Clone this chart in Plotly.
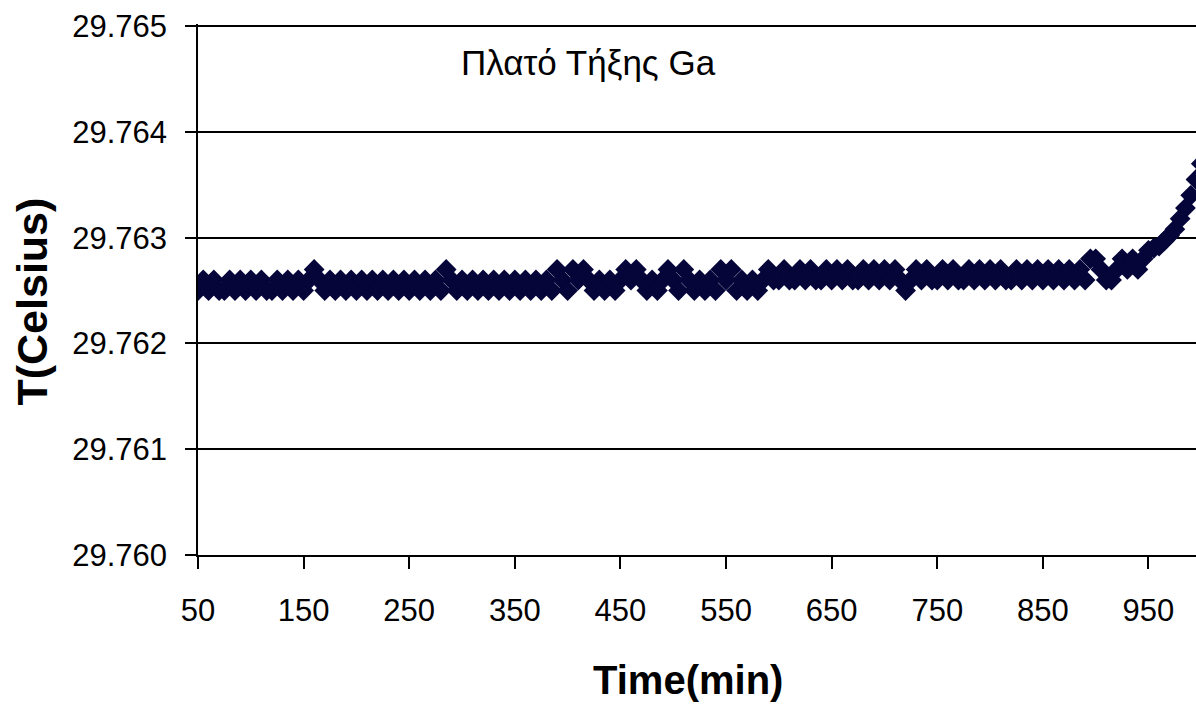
import plotly.graph_objects as go

# Sample times (min)
times = list(range(50, 1001, 5))

# Temperature readings (Celsius)
temps = [
    29.7625, 29.7626, 29.7625, 29.7626, 29.7625, 29.7625, 29.7626, 29.7625, 29.7626, 29.7625,
    29.7626, 29.7625, 29.7626, 29.7625, 29.7625, 29.7626, 29.7625, 29.7626, 29.7625, 29.7626,
    29.7625, 29.7626, 29.7627, 29.7626, 29.7625, 29.7626, 29.7625, 29.7626, 29.7625, 29.7626,
    29.7625, 29.7626, 29.7625, 29.7626, 29.7625, 29.7626, 29.7625, 29.7626, 29.7625, 29.7626,
    29.7625, 29.7626, 29.7625, 29.7626, 29.7625, 29.7626, 29.7625, 29.7627, 29.7626, 29.7625,
    29.7626, 29.7625, 29.7626, 29.7625, 29.7626, 29.7625, 29.7626, 29.7625, 29.7626, 29.7625,
    29.7626, 29.7625, 29.7626, 29.7625, 29.7626, 29.7625, 29.7626, 29.7625, 29.7627, 29.7626,
    29.7625, 29.7627, 29.7626, 29.7627, 29.7626, 29.7625, 29.7626, 29.7625, 29.7626, 29.7625,
    29.7626, 29.7627, 29.7626, 29.7627, 29.7626, 29.7625, 29.7626, 29.7625, 29.7626, 29.7627,
    29.7626, 29.7625, 29.7627, 29.7626, 29.7625, 29.7626, 29.7625, 29.7626, 29.7625, 29.7627,
    29.7626, 29.7627, 29.7625, 29.7626, 29.7625, 29.7626, 29.7625, 29.7626, 29.7627, 29.7626,
    29.7626, 29.7627, 29.7626, 29.7626, 29.7627, 29.7626, 29.7627, 29.7626, 29.7626, 29.7627,
    29.7626, 29.7627, 29.7626, 29.7627, 29.7626, 29.7626, 29.7627, 29.7626, 29.7627, 29.7626,
    29.7627, 29.7626, 29.7627, 29.7626, 29.7625, 29.7626, 29.7627, 29.7626, 29.7627, 29.7626,
    29.7626, 29.7627, 29.7626, 29.7627, 29.7626, 29.7626, 29.7627, 29.7626, 29.7627, 29.7626,
    29.7627, 29.7626, 29.7627, 29.7626, 29.7626, 29.7627, 29.7626, 29.7627, 29.7626, 29.7627,
    29.7626, 29.7627, 29.7626, 29.7627, 29.7626, 29.7627, 29.7626, 29.7627, 29.7626, 29.7628,
    29.7628, 29.7627, 29.7626, 29.7626, 29.7627, 29.7628, 29.7627, 29.7628, 29.7627, 29.7628,
    29.76288, 29.7629, 29.76292, 29.76297, 29.76302, 29.76308, 29.76318, 29.76328, 29.7634, 29.76355,
    29.7637,
]

x_ticks = [50, 150, 250, 350, 450, 550, 650, 750, 850, 950]
y_ticks = [29.760, 29.761, 29.762, 29.763, 29.764, 29.765]

chart_title = "Πλατό Τήξης Ga"
x_title = "Time(min)"
y_title = "T(Celsius)"

FONT = "Liberation Sans, Arial, sans-serif"
MARK = "#05053a"

fig = go.Figure()
fig.add_trace(go.Scatter(
    x=times, y=temps, mode="markers",
    marker=dict(symbol="diamond", size=16, color=MARK, line=dict(width=0)),
    showlegend=False, hoverinfo="x+y",
))

fig.update_layout(
    width=1196, height=705,
    margin=dict(l=198, r=0, t=24, b=150),
    paper_bgcolor="white", plot_bgcolor="white",
    font=dict(family=FONT, color="black"),
    xaxis=dict(
        range=[50, 995], tickmode="array", tickvals=x_ticks,
        ticktext=[str(v) for v in x_ticks],
        showgrid=False, zeroline=False,
        showline=True, linecolor="black", linewidth=1.5,
        ticks="outside", ticklen=12, tickwidth=1.5, tickcolor="black",
        tickfont=dict(size=31, family=FONT), ticklabelstandoff=15,
    ),
    yaxis=dict(
        range=[29.760, 29.76502], tickmode="array", tickvals=y_ticks,
        ticktext=[f"{v:.3f}" for v in y_ticks],
        showgrid=True, gridcolor="black", gridwidth=1.5, zeroline=False,
        showline=True, linecolor="black", linewidth=1.5,
        ticks="outside", ticklen=11, tickwidth=1.5, tickcolor="black",
        tickfont=dict(size=31, family=FONT), ticklabelstandoff=12,
    ),
    annotations=[
        dict(text=chart_title, x=0.391, y=0.9266, xref="paper", yref="paper",
             showarrow=False, font=dict(size=35, family=FONT, color="black"),
             xanchor="center", yanchor="middle"),
        dict(text="<b>" + x_title + "</b>", x=0.491, y=-0.2354, xref="paper", yref="paper",
             showarrow=False, font=dict(size=40, family=FONT, color="black"),
             xanchor="center", yanchor="middle"),
        dict(text="<b>" + y_title + "</b>", x=-0.166, y=0.478, xref="paper", yref="paper",
             showarrow=False, textangle=-90, font=dict(size=43, family=FONT, color="black"),
             xanchor="center", yanchor="middle"),
    ],
)

# remove the default page margin so the figure fills the window exactly
fig.write_html(
    "out.html",
    config={"displayModeBar": False},
    post_script="document.body.style.margin='0';document.body.style.overflow='hidden';",
)
